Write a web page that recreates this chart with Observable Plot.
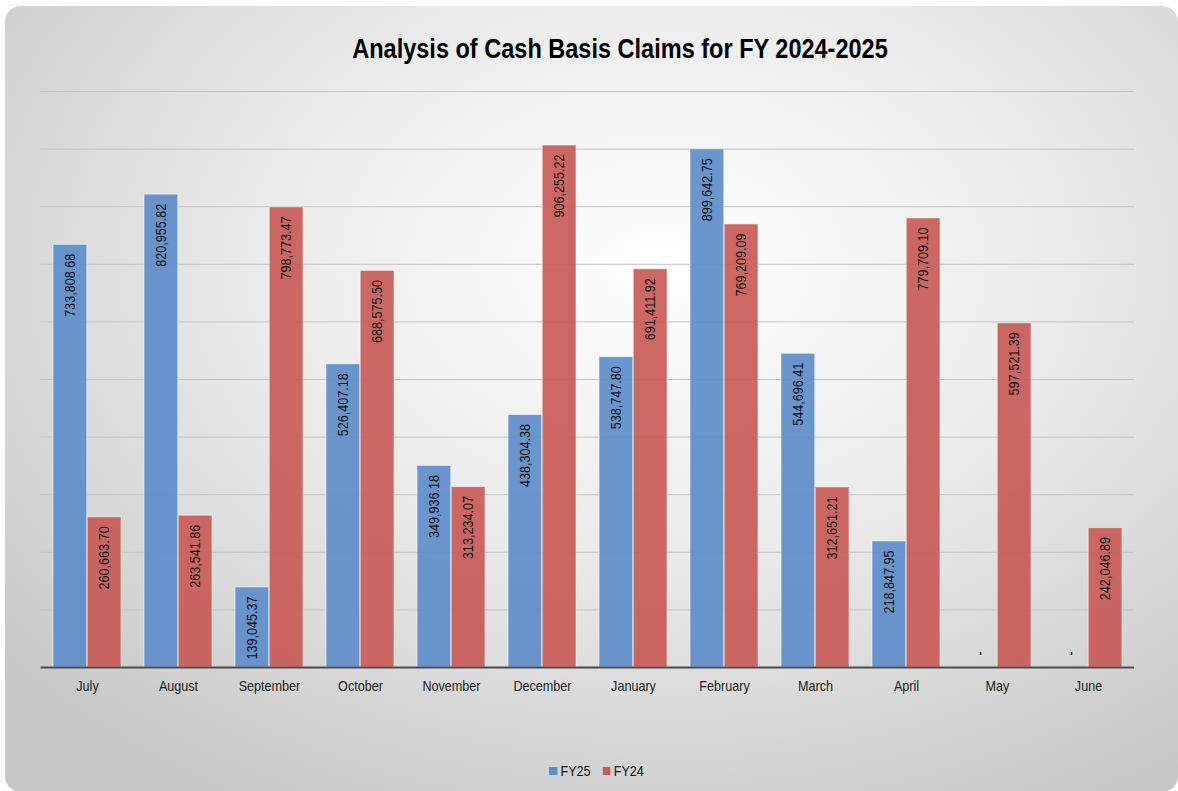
<!DOCTYPE html>
<html><head><meta charset="utf-8">
<script src="https://cdn.jsdelivr.net/npm/d3@7"></script>
<script src="https://cdn.jsdelivr.net/npm/@observablehq/plot@0.6"></script>
<style>
body{margin:0;background:#fff;width:1178px;height:791px;overflow:hidden;position:relative;font-family:"Liberation Sans",Arial,sans-serif;}
#bg{position:absolute;left:5px;top:6px;width:1173px;height:786px;border-radius:16px;background:radial-gradient(ellipse 75% 80% at 56% 33%, #ffffff 0%, #ebebeb 45%, #c6c6c6 100%);}
#title{position:absolute;left:0;top:35px;width:1240px;text-align:center;font-weight:bold;font-size:28px;line-height:28px;color:#000;transform:scaleX(0.84);transform-origin:620px 50%;}
#chart{position:absolute;left:0;top:0;}
#legend{position:absolute;left:0;top:762px;width:1193px;display:flex;justify-content:center;align-items:center;font-size:15px;color:#111;transform:scaleX(0.84);transform-origin:596.5px 50%;}
#legend .sw{display:inline-block;width:9.5px;height:8px;margin-right:4px;}
#legend .it{display:flex;align-items:center;margin:0 7px;}
</style></head>
<body>
<div id="bg"></div>
<div id="title">Analysis of Cash Basis Claims for FY 2024-2025</div>
<div id="chart"></div>
<div id="legend"></div>
<script>
const months = ["July","August","September","October","November","December","January","February","March","April","May","June"];
const fy25 = [733808.68, 820955.82, 139045.37, 526407.18, 349936.18, 438304.38, 538747.80, 899642.75, 544696.41, 218847.95, 0, 0];
const fy24 = [260663.70, 263541.86, 798773.47, 688575.50, 313234.07, 906255.22, 691411.92, 769209.09, 312651.21, 779709.10, 597521.39, 242046.89];
const seriesNames = ["FY25","FY24"];
const seriesColors = ["#5f8ec9","#c85b58"];
const gridTicks = [100000,200000,300000,400000,500000,600000,700000,800000,900000,1000000];

const rows25 = months.map((m,i)=>({month:m, value:fy25[i]}));
const rows24 = months.map((m,i)=>({month:m, value:fy24[i]}));
const fmt = v => v === 0 ? "-" : d3.format(",.2f")(v);

const half = 34.2;
const font = '"Liberation Sans",Arial,sans-serif';
const labelStyle = {rotate:-90, fontSize:15, fill:"#111", fontFamily:font};

const chart = Plot.plot({
  width:1178, height:700,
  marginLeft:40.5, marginRight:44, marginTop:91, marginBottom:33,
  x:{domain:months, paddingInner:0.25, paddingOuter:0.125, label:null, tickSize:0, tickPadding:13},
  y:{domain:[0,1000000], axis:null},
  style:{background:"transparent", fontFamily:font, fontSize:"15px", color:"#222", overflow:"visible"},
  marks:[
    Plot.ruleY(gridTicks, {stroke:"#c4c4c4", strokeWidth:1}),
    Plot.barY(rows25, {x:"month", y:"value", fill:seriesColors[0], fillOpacity:0.93, stroke:"#fff", strokeOpacity:0.55, strokeWidth:1, insetRight:half}),
    Plot.barY(rows24, {x:"month", y:"value", fill:seriesColors[1], fillOpacity:0.93, stroke:"#fff", strokeOpacity:0.55, strokeWidth:1, insetLeft:half}),
    Plot.ruleY([0], {stroke:"#4a4a4a", strokeWidth:2}),
    Plot.text(rows25.filter(d=>d.value>0), {x:"month", y:"value", text:d=>fmt(d.value), textAnchor:"end", dx:-17, dy:9, ...labelStyle}),
    Plot.text(rows25.filter(d=>d.value===0), {x:"month", y:"value", text:d=>fmt(d.value), textAnchor:"start", dx:-17, dy:-12, ...labelStyle}),
    Plot.text(rows24, {x:"month", y:"value", text:d=>fmt(d.value), textAnchor:"end", dx:17, dy:9, ...labelStyle})
  ]
});
document.getElementById("chart").appendChild(chart);
// condense text horizontally (narrow face look)
chart.querySelectorAll("text").forEach(t=>{
  const L = t.getComputedTextLength();
  if (L > 0) { t.setAttribute("textLength", (L*0.84).toFixed(2)); t.setAttribute("lengthAdjust","spacingAndGlyphs"); }
});

const legend = document.getElementById("legend");
seriesNames.forEach((s,i)=>{
  const it = document.createElement("span"); it.className="it";
  const sw = document.createElement("span"); sw.className="sw"; sw.style.background=seriesColors[i];
  it.appendChild(sw); it.appendChild(document.createTextNode(s));
  legend.appendChild(it);
});
</script>
</body></html>
